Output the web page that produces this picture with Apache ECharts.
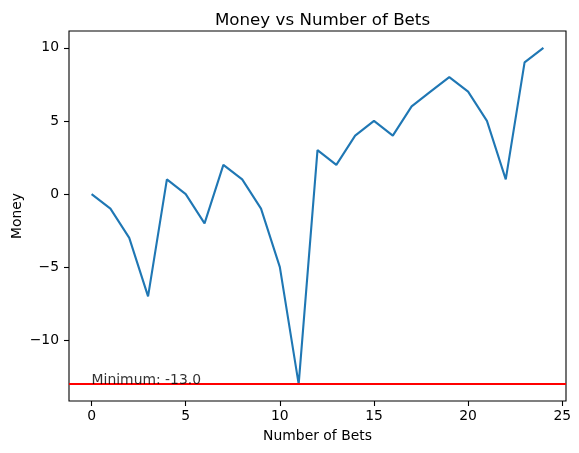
<!DOCTYPE html>
<html>
<head>
<meta charset="utf-8">
<script src="https://cdn.jsdelivr.net/npm/echarts@6/dist/echarts.min.js"></script>
<style>
html,body{margin:0;padding:0;background:#fff;}
#chart{width:579px;height:453px;}
</style>
</head>
<body>
<div id="chart"></div>
<script>
const bets = [0,1,2,3,4,5,6,7,8,9,10,11,12,13,14,15,16,17,18,19,20,21,22,23,24];
const money = [0,-1,-3,-7,1,0,-2,2,1,-1,-5,-13,3,2,4,5,4,6,7,8,7,5,1,9,10];
const minimumValue = -13;
const xTicks = [0,5,10,15,20,25];
const yTicks = [-10,-5,0,5,10];

const FONT = '"DejaVu Sans", sans-serif';
const chart = echarts.init(document.getElementById('chart'), null, {renderer:'canvas'});
const fmt = v => (v < 0 ? '\u2212' + Math.abs(v) : String(v));

chart.setOption({
  animation: false,
  backgroundColor: '#ffffff',
  title: {
    text: 'Money vs Number of Bets',
    left: 317.5, top: 7, textAlign: 'center',
    textStyle: {fontFamily: FONT, fontSize: 16.7, fontWeight: 'normal', color: '#000'}
  },
  grid: {left: 69, right: 13, top: 31, bottom: 52, outerBoundsMode: 'none', containLabel: false,
         show: true, borderColor: '#000', borderWidth: 1.1, backgroundColor: 'transparent'},
  xAxis: {
    type: 'value', min: -1.2, max: 25.2, position: 'bottom',
    name: 'Number of Bets', nameLocation: 'middle', nameGap: 28, nameMoveOverlap: false,
    nameTextStyle: {fontFamily: FONT, fontSize: 13.9, color: '#000'},
    axisLine: {show: false, onZero: false},
    splitLine: {show: false},
    axisTick: {show: true, inside: false, length: 5, lineStyle: {color: '#000', width: 1.1}, customValues: xTicks},
    axisLabel: {fontFamily: FONT, fontSize: 13.9, color: '#000', margin: 8, customValues: xTicks, formatter: fmt}
  },
  yAxis: {
    type: 'value', min: -14.15, max: 11.15, position: 'left',
    name: 'Money', nameLocation: 'middle', nameGap: 45, nameRotate: 90, nameMoveOverlap: false,
    nameTextStyle: {fontFamily: FONT, fontSize: 13.9, color: '#000'},
    axisLine: {show: false, onZero: false},
    splitLine: {show: false},
    axisTick: {show: true, inside: false, length: 5, lineStyle: {color: '#000', width: 1.1}, customValues: yTicks},
    axisLabel: {fontFamily: FONT, fontSize: 13.9, color: '#000', margin: 10, customValues: yTicks, formatter: fmt}
  },
  series: [
    {
      type: 'line',
      data: bets.map((b, i) => [b, money[i]]),
      showSymbol: false,
      symbol: 'none',
      lineStyle: {color: '#1f77b4', width: 2.1},
      z: 2,
      markLine: {
        silent: true,
        symbol: 'none',
        label: {show: false},
        lineStyle: {color: '#ff0000', width: 2.1, type: 'solid'},
        data: [{yAxis: minimumValue}],
        z: 3
      }
    },
    {
      type: 'scatter',
      data: [[0, minimumValue]],
      symbolSize: 0,
      z: 4,
      label: {
        show: true,
        position: [0, 0],
        align: 'left',
        verticalAlign: 'bottom',
        offset: [0, 3],
        formatter: 'Minimum: ' + minimumValue.toFixed(1),
        fontFamily: FONT, fontSize: 13.9, color: '#000'
      }
    }
  ]
});
</script>
</body>
</html>
